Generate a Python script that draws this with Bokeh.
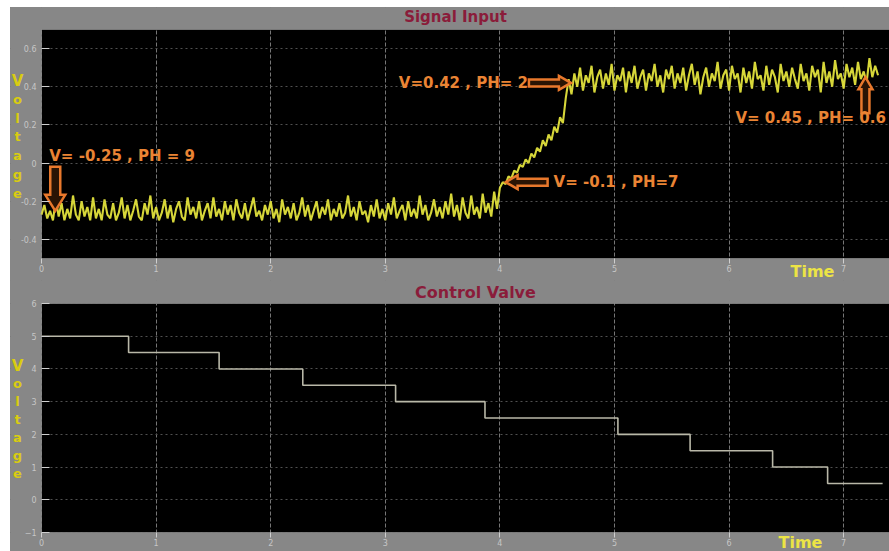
from bokeh.plotting import figure
from bokeh.layouts import column
from bokeh.models import (Range1d, FixedTicker, Label, LinearAxis, Grid,
                          BoxAnnotation)
from bokeh.embed import file_html
from bokeh.resources import INLINE

# ---------------- data ----------------
SAMPLE_STEP = 0.025  # seconds between scope samples

# Signal input (V), sampled every SAMPLE_STEP from t = 0
SIGNAL_V = [
    # 0.000 - 0.475
    -0.27, -0.22, -0.29, -0.25, -0.30, -0.19, -0.28, -0.21, -0.30, -0.24,
    -0.29, -0.17, -0.27, -0.30, -0.20, -0.28, -0.23, -0.30, -0.18, -0.29,
    # 0.500 - 0.975
    -0.24, -0.30, -0.19, -0.27, -0.29, -0.21, -0.30, -0.26, -0.18, -0.29,
    -0.22, -0.30, -0.25, -0.19, -0.28, -0.30, -0.21, -0.27, -0.17, -0.29,
    # 1.000 - 1.475
    -0.23, -0.30, -0.26, -0.19, -0.29, -0.22, -0.31, -0.24, -0.20, -0.28,
    -0.30, -0.18, -0.27, -0.23, -0.29, -0.20, -0.30, -0.25, -0.21, -0.29,
    # 1.500 - 1.975
    -0.18, -0.28, -0.24, -0.30, -0.20, -0.27, -0.22, -0.30, -0.19, -0.26,
    -0.29, -0.21, -0.30, -0.24, -0.18, -0.28, -0.25, -0.30, -0.22, -0.27,
    # 2.000 - 2.475
    -0.20, -0.29, -0.24, -0.31, -0.19, -0.27, -0.23, -0.29, -0.21, -0.30,
    -0.26, -0.18, -0.28, -0.22, -0.30, -0.25, -0.20, -0.29, -0.23, -0.27,
    # 2.500 - 2.975
    -0.19, -0.30, -0.24, -0.28, -0.21, -0.29, -0.26, -0.17, -0.28, -0.23,
    -0.30, -0.20, -0.27, -0.25, -0.31, -0.22, -0.28, -0.19, -0.29, -0.24,
    # 3.000 - 3.475
    -0.30, -0.21, -0.27, -0.18, -0.29, -0.25, -0.22, -0.30, -0.20, -0.28,
    -0.24, -0.29, -0.17, -0.27, -0.22, -0.30, -0.26, -0.19, -0.28, -0.23,
    # 3.500 - 3.975
    -0.29, -0.20, -0.27, -0.16, -0.28, -0.22, -0.30, -0.18, -0.26, -0.29,
    -0.17, -0.27, -0.23, -0.29, -0.16, -0.26, -0.21, -0.28, -0.15, -0.24,
    # 4.000 - 4.575 (rise)
    -0.13, -0.10, -0.11, -0.07, -0.08, -0.04, -0.05, -0.01, -0.02, 0.02,
    0.00, 0.05, 0.03, 0.08, 0.06, 0.12, 0.09, 0.15, 0.12, 0.19,
    0.16, 0.24, 0.21, 0.34,
    # 4.600 - 7.300
    0.44, 0.36, 0.47, 0.40, 0.50, 0.38, 0.46, 0.42, 0.51, 0.37,
    0.45, 0.49, 0.39, 0.47, 0.41, 0.52, 0.38, 0.46, 0.43, 0.50,
    0.37, 0.48, 0.42, 0.51, 0.39, 0.45, 0.49, 0.38, 0.47, 0.43,
    0.52, 0.40, 0.46, 0.37, 0.49, 0.44, 0.51, 0.39, 0.47, 0.42,
    0.50, 0.38, 0.46, 0.52, 0.41, 0.48, 0.36, 0.45, 0.50, 0.40,
    0.47, 0.43, 0.53, 0.39, 0.46, 0.49, 0.38, 0.51, 0.44, 0.47,
    0.37, 0.50, 0.42, 0.48, 0.39, 0.53, 0.44, 0.46, 0.38, 0.51,
    0.41, 0.49, 0.45, 0.37, 0.52, 0.43, 0.48, 0.40, 0.50, 0.44,
    0.39, 0.52, 0.43, 0.47, 0.38, 0.51, 0.45, 0.49, 0.37, 0.53,
    0.42, 0.48, 0.40, 0.54, 0.44, 0.47, 0.39, 0.52, 0.45, 0.50,
    0.41, 0.53, 0.44, 0.48, 0.42, 0.55, 0.45, 0.51, 0.46,
]
SIGNAL_T = [round(i * SAMPLE_STEP, 3) for i in range(len(SIGNAL_V))]

# Control valve command: switching times and held levels
VALVE_T = [0.0, 0.76, 1.55, 2.28, 3.09, 3.87, 5.03, 5.66, 6.38, 6.86, 7.34]
VALVE_V = [5.0, 4.5, 4.0, 3.5, 3.0, 2.5, 2.0, 1.5, 1.0, 0.5]

# Call-outs on the signal trace
CALLOUT_T = [0.12, 4.05, 4.62, 7.19]
CALLOUT_V = [-0.25, -0.10, 0.42, 0.45]
CALLOUT_TEXT = ["V= -0.25 , PH = 9", "V= -0.1 , PH=7", "V=0.42 , PH= 2", "V= 0.45 , PH= 0.6"]

TIME_TICKS = [0, 1, 2, 3, 4, 5, 6, 7]
SIGNAL_TICKS = [-0.4, -0.2, 0.0, 0.2, 0.4, 0.6]
SIGNAL_TICK_LABELS = ["-0.4", "-0.2", "0", "0.2", "0.4", "0.6"]
VALVE_TICKS = [-1, 0, 1, 2, 3, 4, 5, 6]

# ---------------- styling ----------------
FIG_W = 879
PANEL_GRAY = "#878787"
FRAME_W = 848           # width of the black scope screen in px
FRAME_H = 229           # height of the black scope screen in px
LEFT = 31               # gray strip left of the screen
T_MAX = 7.4
ORANGE = "#e8782c"
ORANGE_TXT = "#ea8434"
YELLOW = "#e2e23c"
TITLE_RED = "#8a1c3a"
FONT = "DejaVu Sans"
KX = FRAME_W / T_MAX


def make_scope(height, top, bottom, y0, y1, yticks):
    ky = FRAME_H / (y1 - y0)
    p = figure(width=FIG_W, height=height, output_backend="svg", toolbar_location=None,
               x_range=Range1d(-LEFT / KX, T_MAX),
               y_range=Range1d(y0 - bottom / ky, y1 + top / ky),
               x_axis_location=None, y_axis_location=None,
               min_border=0, min_border_left=0, min_border_right=0,
               min_border_top=0, min_border_bottom=0)
    p.background_fill_color = PANEL_GRAY
    p.border_fill_color = PANEL_GRAY
    p.outline_line_color = None
    for g in p.grid:
        g.visible = False

    # black scope screen
    p.add_layout(BoxAnnotation(left=0, right=T_MAX, bottom=y0, top=y1,
                               fill_color="black", fill_alpha=1.0,
                               line_color=None, level="image"))

    xaxis = LinearAxis(fixed_location=y0, ticker=FixedTicker(ticks=TIME_TICKS))
    yaxis = LinearAxis(fixed_location=0, ticker=FixedTicker(ticks=yticks))
    p.add_layout(xaxis, "below")
    p.add_layout(yaxis, "left")
    p.add_layout(Grid(dimension=0, ticker=xaxis.ticker, grid_line_color="#767676",
                      grid_line_dash="4 2"))
    p.add_layout(Grid(dimension=1, ticker=yaxis.ticker, grid_line_color="#505050",
                      grid_line_dash="2 3"))
    # gray frame around the screen hides the grid outside it
    for kw in (dict(right=0), dict(bottom=y1), dict(top=y0)):
        p.add_layout(BoxAnnotation(fill_color=PANEL_GRAY, fill_alpha=1.0,
                                   line_color=None, level="underlay", **kw))
    p.add_layout(BoxAnnotation(left=0, right=T_MAX, bottom=y0, top=y1,
                               fill_color=None, line_color="#a4a4a4",
                               line_width=1, level="glyph"))

    for ax in (xaxis, yaxis):
        ax.axis_line_color = None
        ax.major_label_text_font = FONT
        ax.major_label_text_font_size = "8px"
        ax.major_label_text_color = "#c6c6c6"
        ax.major_tick_line_color = "#cfcfcf"
        ax.minor_tick_line_color = None
    xaxis.major_tick_out = 5
    xaxis.major_tick_in = 0
    xaxis.major_label_standoff = 1
    yaxis.major_tick_out = 0
    yaxis.major_tick_in = 8
    yaxis.major_label_standoff = 5
    return p, yaxis, ky


def canvas_label(p, px, py, text, color, size, align="center"):
    """Text at (px, py) pixels from the top-left corner of the figure."""
    p.add_layout(Label(x=p.x_range.start, y=p.y_range.end, x_offset=px, y_offset=-py,
                       text=text, text_color=color, text_font=FONT,
                       text_font_size=size, text_font_style="bold",
                       text_align=align, text_baseline="middle"))


def voltage_letters(p, first_py, step):
    for i, ch in enumerate("Voltage"):
        canvas_label(p, 7, first_py + i * step, ch, "#d9cc10",
                     "15px" if ch == "V" else "13px")


def block_arrow(tip_t, tip_v, direction, ky, length, shaft, head_w, head_len):
    pts = [(0, 0), (-head_len, head_w / 2), (-head_len, shaft / 2), (-length, shaft / 2),
           (-length, -shaft / 2), (-head_len, -shaft / 2), (-head_len, -head_w / 2)]
    c, s = {"right": (1, 0), "left": (-1, 0), "up": (0, 1), "down": (0, -1)}[direction]
    xs = [tip_t + (x * c - y * s) / KX for x, y in pts]
    ys = [tip_v + (x * s + y * c) / ky for x, y in pts]
    return xs, ys


# ---------------- Signal Input ----------------
p1, p1_yaxis, ky1 = make_scope(273, 22, 22, -0.5, 0.7, SIGNAL_TICKS)
p1_yaxis.major_label_overrides = dict(zip(SIGNAL_TICKS, SIGNAL_TICK_LABELS))
p1.line(SIGNAL_T, SIGNAL_V, line_color=YELLOW, line_width=2.1, line_alpha=0.95)

arrow_dirs = ["down", "left", "right", "up"]
arrow_dims = [(44, 10, 20, 16), (42, 7, 14, 12), (42, 7, 14, 12), (36, 8, 14, 12)]
text_pos = [(-6, 55, "left"), (48, 0, "left"), (-43, 0, "right"), (-130, -41, "left")]
axs, ays = [], []
for t, v, d, dims in zip(CALLOUT_T, CALLOUT_V, arrow_dirs, arrow_dims):
    xs, ys = block_arrow(t, v, d, ky1, *dims)
    axs.append(xs)
    ays.append(ys)
p1.patches(axs, ays, fill_color="#2a1404", line_color=ORANGE, line_width=2.5,
           line_join="miter")
for t, v, txt, (dx, dy, al) in zip(CALLOUT_T, CALLOUT_V, CALLOUT_TEXT, text_pos):
    p1.add_layout(Label(x=t, y=v, x_offset=dx, y_offset=dy, text=txt,
                        text_color=ORANGE_TXT, text_font=FONT, text_font_size="15px",
                        text_font_style="bold", text_align=al, text_baseline="middle"))

canvas_label(p1, 445, 9, "Signal Input", TITLE_RED, "15px")
canvas_label(p1, 802, 264, "Time", "#ece445", "16px")
voltage_letters(p1, 73, 18.8)

# ---------------- Control Valve ----------------
p2, _, _ = make_scope(271, 23, 19, -1, 6, VALVE_TICKS)
p2.step(VALVE_T, VALVE_V + [VALVE_V[-1]], mode="after",
        line_color="#b9b8a8", line_width=1.6)

canvas_label(p2, 465, 12, "Control Valve", TITLE_RED, "16px")
canvas_label(p2, 790, 262, "Time", "#ece445", "16px")
voltage_letters(p2, 85, 18.0)

layout = column(p1, p2, spacing=0, margin=(7, 0, 0, 10),
                styles={"background-color": PANEL_GRAY})

with open("out.html", "w") as f:
    f.write(file_html(layout, INLINE))
